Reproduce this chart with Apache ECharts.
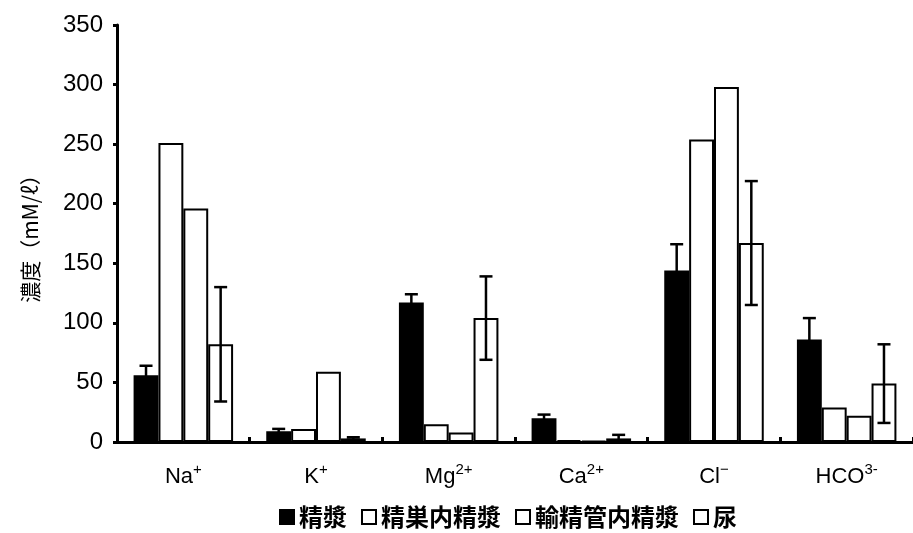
<!DOCTYPE html>
<html><head><meta charset="utf-8">
<script src="https://cdn.jsdelivr.net/npm/echarts@6/dist/echarts.min.js"></script>
<style>html,body{margin:0;padding:0;background:#fff}#c{width:913px;height:533px}</style>
</head><body><div id="c"></div>
<script>
const catBase = ['Na','K','Mg','Ca','Cl','HCO'];
const catSup  = ['+','+','2+','2+','\u2212','3-'];
const seriesNames = ['精漿','精巣内精漿','輸精管内精漿','尿'];
const seminal = [56, 9, 117, 20, 144, 86];
const seminalErr = [8, 2, 7, 3, 22, 18];
const testis = [251, 11, 15, 1.5, 254, 29];
const vas = [196, 59, 8, 1, 298, 22];
const urine = [82, 3, 104, 3, 167, 49];
const urineErr = [48, 1, 35, 3, 52, 33];
const yTicks = [0, 50, 100, 150, 200, 250, 300, 350];

const chart = echarts.init(document.getElementById('c'));
const cats = catBase.map((b,i)=>b+'|'+catSup[i]);
const fills = ['#000','#fff','#fff','#fff'];
const values = [seminal, testis, vas, urine];

function errData(vals, errs){ return vals.map((v,i)=>[i, v-errs[i], v+errs[i]]); }
function errSeries(idx, vals, errs){
  return {
    type:'custom', name:'err'+idx, z:5,
    data: errData(vals, errs),
    renderItem(params, api){
      const ci = api.value(0);
      const bw = api.size([1,0])[0]*0.75/4;
      const hi = api.coord([ci, api.value(2)]);
      const lo = api.coord([ci, api.value(1)]);
      const x = hi[0] + (idx-1.5)*bw;
      const cap = 6.5;
      const st = {stroke:'#000', lineWidth:2.5};
      return {type:'group', children:[
        {type:'line', shape:{x1:x,y1:hi[1],x2:x,y2:lo[1]}, style:st},
        {type:'line', shape:{x1:x-cap,y1:hi[1],x2:x+cap,y2:hi[1]}, style:st},
        {type:'line', shape:{x1:x-cap,y1:lo[1],x2:x+cap,y2:lo[1]}, style:st}
      ]};
    }
  };
}

const series = seriesNames.map((n,i)=>({
  type:'bar', name:n, data: values[i],
  barGap:'0%', barCategoryGap:'25%',
  itemStyle:{color:fills[i], borderColor:'#000', borderWidth:2},
  emphasis:{disabled:true}
}));
series.push(errSeries(0, seminal, seminalErr));
series.push(errSeries(3, urine, urineErr));

chart.setOption({
  animation:false,
  textStyle:{fontFamily:'Liberation Sans, Arial, sans-serif', color:'#000'},
  grid:{left:117, right:0, top:25, bottom:91},
  legend:{
    data: seriesNames, left:274, top:500, icon:'rect',
    itemWidth:14, itemHeight:14, itemGap:14,
    textStyle:{fontFamily:'Noto Sans CJK JP', fontWeight:'bold', fontSize:24, color:'#000'}
  },
  xAxis:{
    type:'category', data: cats,
    axisLine:{lineStyle:{color:'#000', width:3}},
    axisTick:{show:true, inside:true, length:5, lineStyle:{width:3, color:'#000'}},
    axisLabel:{
      margin:20, interval:0,
      formatter(v){ const p=v.split('|'); return '{b|'+p[0]+'}{s|'+p[1]+'}'; },
      rich:{
        b:{fontSize:22, fontFamily:'Liberation Sans', color:'#000', lineHeight:26, verticalAlign:'bottom'},
        s:{fontSize:15, fontFamily:'Liberation Sans', color:'#000', lineHeight:26, verticalAlign:'top', padding:[0,0,12,0]}
      }
    }
  },
  yAxis:{
    type:'value', min:yTicks[0], max:yTicks[yTicks.length-1], interval:50,
    name:'濃度（mM/ℓ）', nameLocation:'middle', nameGap:76, nameRotate:90,
    nameTextStyle:{fontFamily:'Noto Sans CJK JP', fontSize:21, color:'#000'},
    axisLine:{show:true, lineStyle:{color:'#000', width:3}},
    axisTick:{show:true, length:4, lineStyle:{width:3, color:'#000'}},
    splitLine:{show:false},
    axisLabel:{fontSize:24, color:'#000', margin:14, fontFamily:'Liberation Sans'}
  },
  series
});
</script></body></html>
